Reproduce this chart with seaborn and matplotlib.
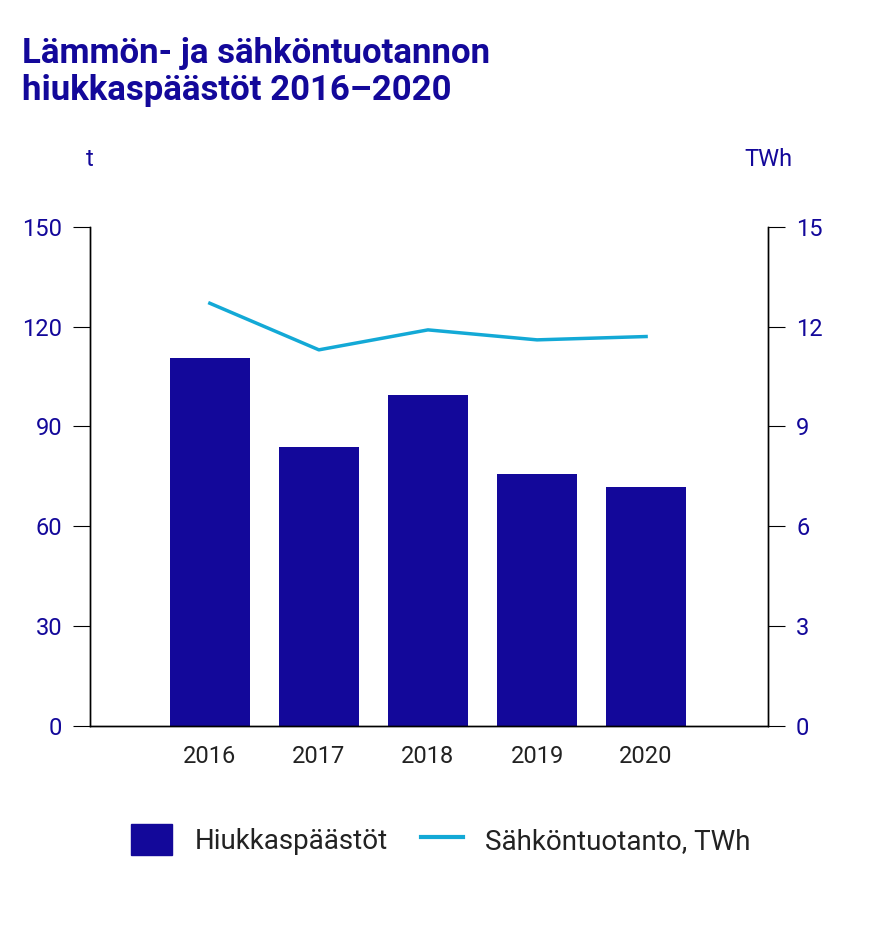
import matplotlib
matplotlib.use("Agg")
import matplotlib.pyplot as plt
import seaborn as sns
import pandas as pd
from matplotlib.patches import Patch
from matplotlib.lines import Line2D

years = ["2016", "2017", "2018", "2019", "2020"]
emissions = [110.6, 83.9, 99.5, 75.7, 71.8]
production = [12.7, 11.3, 11.9, 11.6, 11.7]

NAVY = "#13089a"
CYAN = "#13a9d6"
plt.rcParams["font.family"] = "Roboto"

df = pd.DataFrame({"year": years, "em": emissions, "prod": production, "pos": range(5)})

fig = plt.figure(figsize=(8.81, 9.33), dpi=100)
ax = fig.add_axes([0.102, 0.222, 0.770, 0.535])
sns.barplot(data=df, x="year", y="em", order=years, color=NAVY, width=0.73,
            saturation=1, ax=ax)
ax2 = ax.twinx()
sns.lineplot(data=df, x="pos", y="prod", color=CYAN, linewidth=2.5, ax=ax2)
ax.set_xlim(-1.1, 5.12)
ax.set_ylim(0, 150)
ax2.set_ylim(0, 15)
ax.set_yticks([0, 30, 60, 90, 120, 150])
ax2.set_yticks([0, 3, 6, 9, 12, 15])
for a in (ax, ax2):
    a.set_xlabel(""); a.set_ylabel("")
    for s in a.spines.values():
        s.set_color("black"); s.set_linewidth(1)
    a.spines["top"].set_visible(False)
ax.tick_params(axis="y", colors=NAVY, labelsize=17, length=12, pad=8, color="black")
ax2.tick_params(axis="y", colors=NAVY, labelsize=17, length=12, pad=8, color="black")
ax.tick_params(axis="x", labelsize=17, length=0, pad=14, labelcolor="#222222")
fig.text(0.102, 0.822, "t", color=NAVY, fontsize=17, ha="center")
fig.text(0.872, 0.822, "TWh", color=NAVY, fontsize=17, ha="center")
fig.text(0.025, 0.96, "Lämmön- ja sähköntuotannon\nhiukkaspäästöt 2016–2020",
         color=NAVY, fontsize=25, fontweight="bold", va="top", linespacing=1.15)
handles = [Patch(color=NAVY, label="Hiukkaspäästöt"),
           Line2D([0], [0], color=CYAN, lw=3, label="Sähköntuotanto, TWh")]
fig.legend(handles=handles, loc="center", bbox_to_anchor=(0.5, 0.1), ncol=2,
           frameon=False, fontsize=20, handlelength=1.5, handleheight=1.3,
           columnspacing=1.2, labelcolor="#222222")
fig.savefig("out.png", dpi=100)
